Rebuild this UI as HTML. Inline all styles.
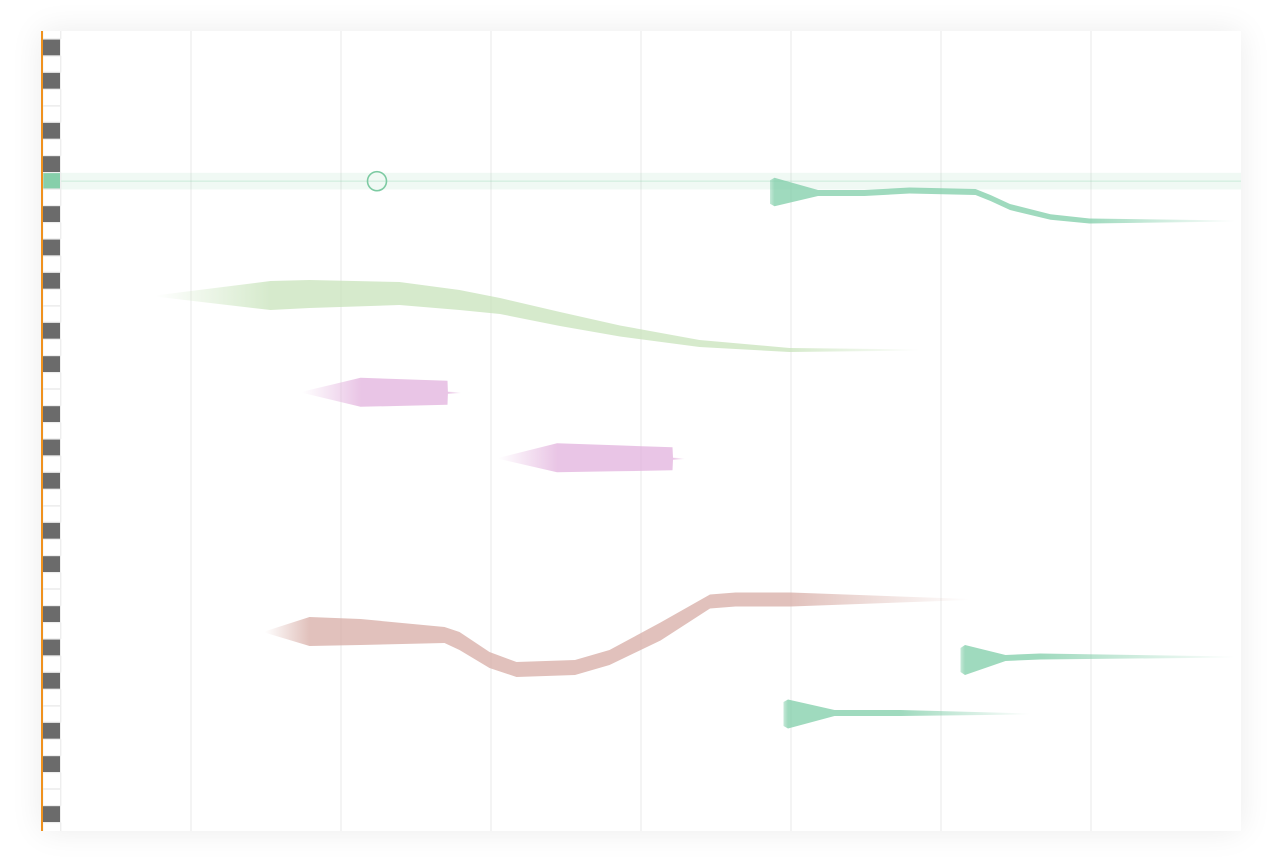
<!DOCTYPE html>
<html><head><meta charset="utf-8">
<style>
html,body{margin:0;padding:0;background:#fff;}
body{width:1283px;height:862px;overflow:hidden;font-family:"Liberation Sans",sans-serif;}
#card{position:absolute;left:41px;top:31px;width:1200px;height:800px;background:#fff;box-shadow:0 0 30px rgba(0,0,0,0.08);}
svg{position:absolute;left:0;top:0;}
</style></head>
<body>
<div id="card"></div>
<svg id="chart" width="1283" height="862"></svg>
<script>
// ---- data ----
const gridTimes = [1,2,3,4,5,6,7];
const topPitch = 80;
const blackOffsets = [0,2,5,7,10];
const highlightPitch = 72;
const cursorTime = 2.24;
// ribbons: times (s), pitches (midi), half-widths (semitones)
const tealATimes = [4.86,4.89,5.18,5.49,5.79,6.23,6.33,6.46,6.73,6.99,7.96];
const tealAPitch = [71.35,71.35,71.29,71.29,71.44,71.35,70.99,70.45,69.85,69.61,69.61];
const tealAWidth = [0.7,0.86,0.18,0.18,0.18,0.18,0.18,0.18,0.17,0.15,0.03];
const greenTimes = [0.76,1.53,1.79,2.39,2.79,3.06,3.46,3.86,4.39,4.99,5.86];
const greenPitch = [65.11,65.14,65.23,65.26,64.87,64.51,63.73,63.01,62.26,61.87,61.87];
const greenWidth = [0.03,0.87,0.84,0.69,0.6,0.48,0.42,0.33,0.21,0.12,0.03];
const pinkATimes = [1.74,2.13,2.71,2.713,2.8];
const pinkAPitch = [59.33,59.33,59.3,59.3,59.3];
const pinkAWidth = [0.03,0.87,0.72,0.06,0.03];
const pinkBTimes = [3.05,3.44,3.83,4.21,4.213,4.29];
const pinkBPitch = [55.37,55.4,55.37,55.34,55.34,55.34];
const pinkBWidth = [0.03,0.87,0.78,0.69,0.06,0.03];
const brownTimes = [1.49,1.79,2.13,2.69,2.79,2.99,3.17,3.56,3.79,4.13,4.46,4.63,5.0,6.19];
const brownPitch = [44.95,44.98,44.95,44.77,44.41,43.27,42.7,42.82,43.42,44.98,46.78,46.9,46.9,46.9];
const brownWidth = [0.03,0.87,0.78,0.48,0.54,0.48,0.45,0.45,0.45,0.54,0.42,0.42,0.42,0.03];
const tealBTimes = [6.13,6.16,6.43,6.66,7.96];
const tealBPitch = [43.27,43.27,43.39,43.48,43.45];
const tealBWidth = [0.72,0.9,0.18,0.18,0.03];
const tealCTimes = [4.95,4.98,5.29,5.73,6.59];
const tealCPitch = [40.03,40.03,40.09,40.09,40.03];
const tealCWidth = [0.72,0.87,0.18,0.18,0.03];

// ---- scales ----
const X0=41, PX=150, ROW=800/48, ROWTOP=39.5;
const xS = t => X0 + t*PX;
const yS = p => ROWTOP + (topPitch - p)*ROW + ROW/2;
const wS = w => w*ROW;

const NS="http://www.w3.org/2000/svg";
const svg=document.getElementById('chart');
function mk(tag,attrs,parent){const e=document.createElementNS(NS,tag);for(const k in attrs)e.setAttribute(k,attrs[k]);(parent||svg).appendChild(e);return e;}
const defs=mk('defs',{});
const clip=mk('clipPath',{id:'plotclip'},defs);
mk('rect',{x:41,y:31,width:1200,height:800},clip);
const g=mk('g',{'clip-path':'url(#plotclip)'});

gridTimes.forEach(t=>{
  const l=mk('line',{x1:xS(t),x2:xS(t),y1:31,y2:831,stroke:'#e9e9e9','stroke-width':1},g);
  
  
});

const hy=yS(highlightPitch);
const band=mk('rect',{x:61,y:hy-ROW/2,width:1180,height:ROW,fill:'rgba(140,210,170,0.13)'},g);


mk('line',{x1:61,x2:1241,y1:hy,y2:hy,stroke:'rgba(130,205,165,0.35)','stroke-width':1},g);

for(let i=-1;i<48;i++){
  const p=topPitch-i;
  const y=ROWTOP+i*ROW;
  const black=blackOffsets.includes(((i%12)+12)%12);
  let fill=black?'#6b6b6b':'#ffffff';
  if(p===highlightPitch) fill='#86cfaa';
  const k=mk('rect',{x:43,y:y,width:18,height:ROW-0.8,fill:fill,stroke:black?'none':'#e6e6e6','stroke-width':0.6},g);
  
  
}
mk('rect',{x:60,y:31,width:1,height:800,fill:'#eeeeee'},g);

let gid=0;
function ribbon(times,pitch,width,color,name,fadeIn){
  const id='grad'+(gid++);
  const lg=mk('linearGradient',{id:id,gradientUnits:'userSpaceOnUse',x1:xS(times[0]),x2:xS(times[times.length-1]),y1:0,y2:0},defs);
  const span=xS(times[times.length-1])-xS(times[0]);
  const n=times.length;
  const off=i=>((xS(times[i])-xS(times[0]))/span).toFixed(4);
  mk('stop',{offset:0,'stop-color':color,'stop-opacity':fadeIn?0:0.45},lg);
  mk('stop',{offset:off(1),'stop-color':color,'stop-opacity':0.75},lg);
  mk('stop',{offset:off(n-2),'stop-color':color,'stop-opacity':0.75},lg);
  mk('stop',{offset:1,'stop-color':color,'stop-opacity':0},lg);
  const top=[],bot=[];
  for(let i=0;i<n;i++){
    top.push(xS(times[i]).toFixed(1)+','+(yS(pitch[i])-wS(width[i])).toFixed(1));
    bot.unshift(xS(times[i]).toFixed(1)+','+(yS(pitch[i])+wS(width[i])).toFixed(1));
  }
  const el=mk('polygon',{points:top.concat(bot).join(' '),fill:'url(#'+id+')','stroke-linejoin':'round'},g);
  
  
}
ribbon(greenTimes,greenPitch,greenWidth,'#c8e3bb','pitch-contour-green',true);
ribbon(pinkATimes,pinkAPitch,pinkAWidth,'#e2b2dd','pitch-contour-pink-1',true);
ribbon(pinkBTimes,pinkBPitch,pinkBWidth,'#e2b2dd','pitch-contour-pink-2',true);
ribbon(brownTimes,brownPitch,brownWidth,'#d7aca5','pitch-contour-brown',true);
ribbon(tealATimes,tealAPitch,tealAWidth,'#7fcda8','pitch-contour-teal-1',false);
ribbon(tealBTimes,tealBPitch,tealBWidth,'#7fcda8','pitch-contour-teal-2',false);
ribbon(tealCTimes,tealCPitch,tealCWidth,'#7fcda8','pitch-contour-teal-3',false);

const c=mk('circle',{cx:xS(cursorTime),cy:hy,r:9.5,fill:'none',stroke:'#7ccaa2','stroke-width':1.6},g);



const ol=mk('rect',{x:41,y:31,width:2,height:800,fill:'#f0921e'});


</script>
</body></html>
